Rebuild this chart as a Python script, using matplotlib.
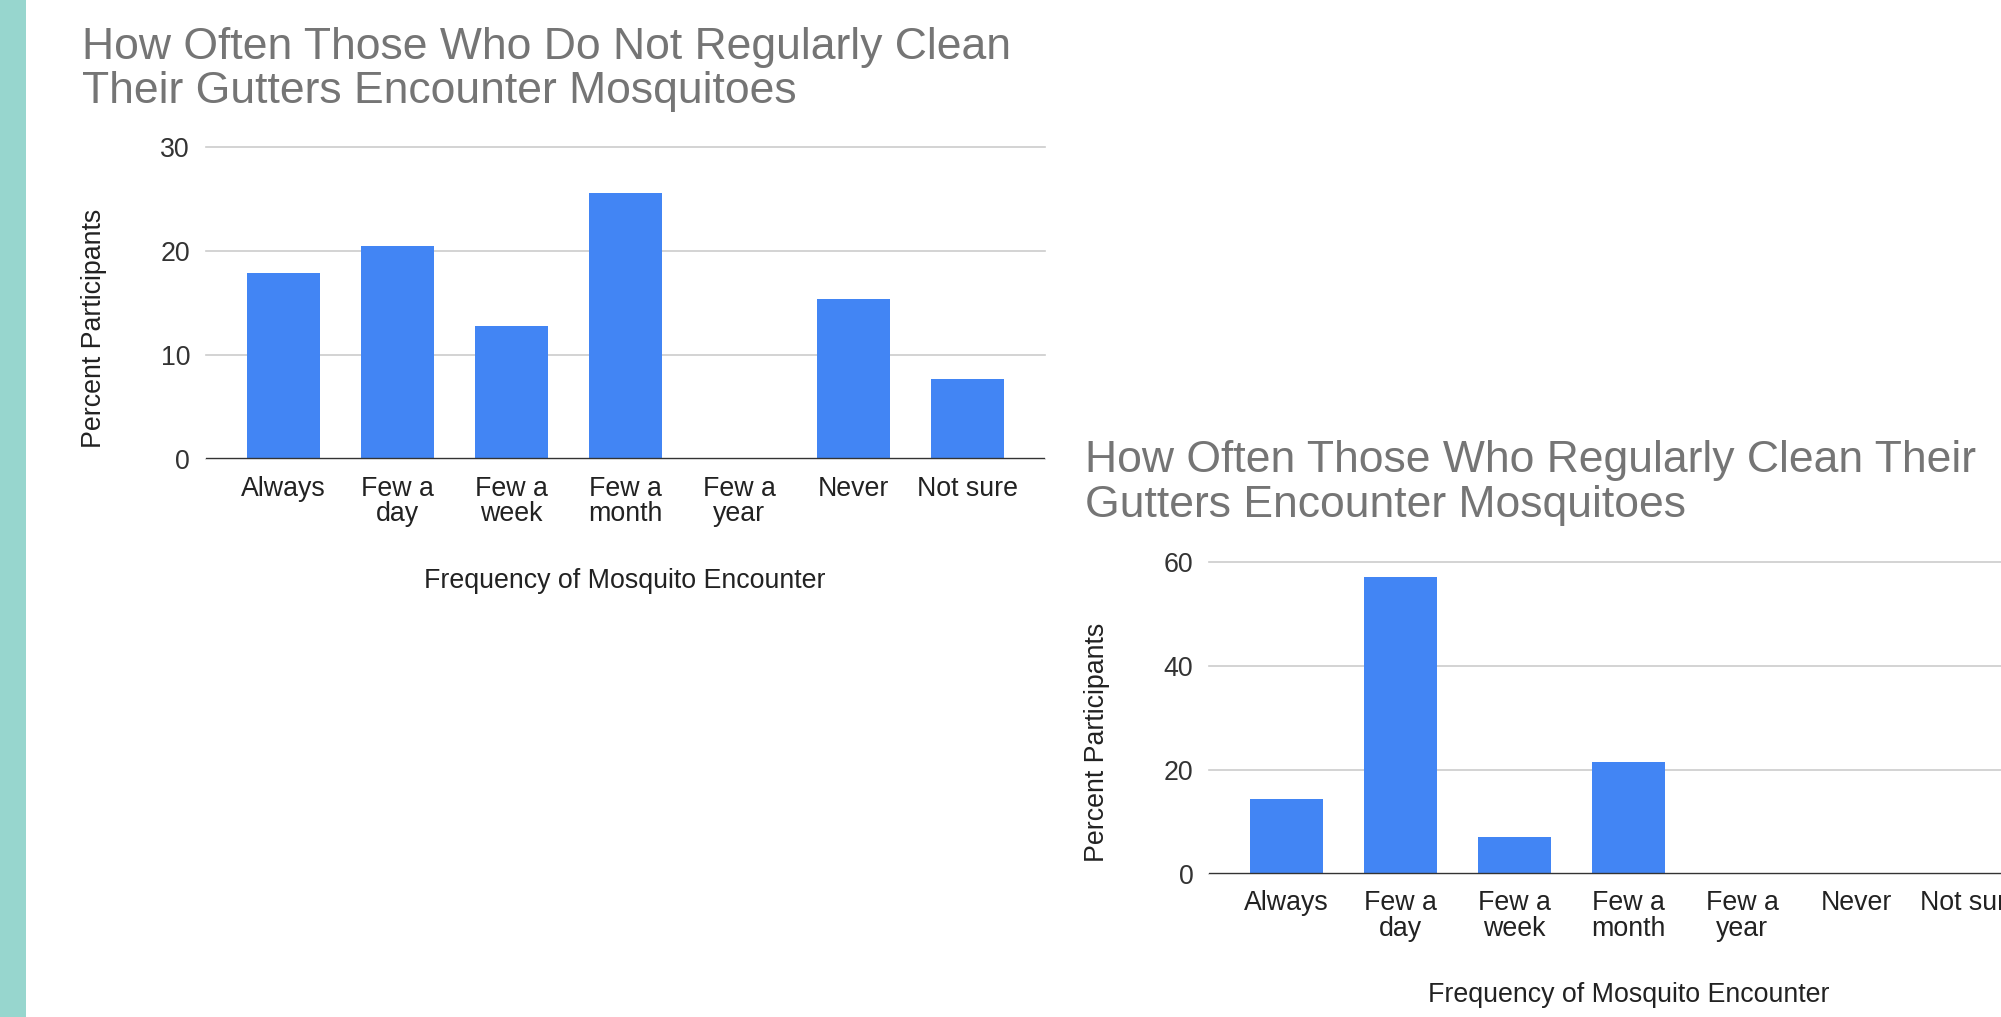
import matplotlib
matplotlib.use("Agg")
import matplotlib.pyplot as plt
from matplotlib.patches import Rectangle

# Survey categories and percentages
categories = ["Always", "Few a\nday", "Few a\nweek", "Few a\nmonth", "Few a\nyear", "Never", "Not sure"]
not_clean_pct = [17.9, 20.5, 12.8, 25.6, 0.0, 15.4, 7.7]
clean_pct = [14.3, 57.1, 7.1, 21.4, 0.0, 0.0, 0.0]
not_clean_ticks = [0, 10, 20, 30]
clean_ticks = [0, 20, 40, 60]

title_not_clean = ["How Often Those Who Do Not Regularly Clean",
                   "Their Gutters Encounter Mosquitoes"]
title_clean = ["How Often Those Who Regularly Clean Their",
               "Gutters Encounter Mosquitoes"]
x_title = "Frequency of Mosquito Encounter"
y_title = "Percent Participants"

FONT = "Liberation Sans"
BAR = "#4285F4"
W, H = 2001, 1017

fig = plt.figure(figsize=(W / 100, H / 100), dpi=100)
fig.patch.set_facecolor("white")

# side accent strip
fig.patches.append(Rectangle((0, 0), 26 / W, 1, transform=fig.transFigure,
                             facecolor="#97D6CE", edgecolor="none"))


def px_axes(left, top, width, height):
    return fig.add_axes([left / W, 1 - (top + height) / H, width / W, height / H])


def draw_chart(ax, values, ticks, title_lines, title_x, baselines):
    xs = list(range(len(categories)))
    ax.bar(xs, values, width=0.643, color=BAR, zorder=2)
    ax.set_xlim(-0.68, len(categories) - 1 + 0.68)
    ax.set_ylim(ticks[0], ticks[-1])
    ax.set_yticks(ticks)
    ax.set_xticks(xs)
    ax.set_xticklabels(categories, fontfamily=FONT, fontsize=19.3,
                       color="#222222", linespacing=0.97)
    for lab in ax.get_yticklabels():
        lab.set_fontfamily(FONT)
        lab.set_fontsize(19.3)
        lab.set_color("#333333")
    ax.tick_params(axis="y", length=0, pad=11.3)
    ax.tick_params(axis="x", length=0, pad=12)
    for s in ax.spines.values():
        s.set_visible(False)
    ax.set_axisbelow(True)
    ax.yaxis.grid(True, color="#CCCCCC", linewidth=1.2)
    for gl in ax.get_ygridlines():
        gl.set_clip_on(False)
    ax.axhline(0, color="#333333", linewidth=1.7, zorder=3)

    ax.set_xlabel(x_title, fontfamily=FONT, fontsize=19.3, color="#222222")
    ax.xaxis.set_label_coords(0.5, -128.7 / 312)
    ax.xaxis.label.set_va("baseline")

    ax.set_ylabel(y_title, fontfamily=FONT, fontsize=19.3, color="#222222")
    ax.yaxis.label.set_va("baseline")
    ax.yaxis.set_label_coords(-104.8 / 839, 0.42)

    for line, yb in zip(title_lines, baselines):
        fig.text(title_x / W, 1 - yb / H, line, fontfamily=FONT, fontsize=32,
                 color="#757575", ha="left", va="baseline")


ax1 = px_axes(205.7, 147.3, 839, 312)
draw_chart(ax1, not_clean_pct, not_clean_ticks, title_not_clean, 82, [58.5, 103.5])

ax2 = px_axes(1209, 561.7, 839, 312)
draw_chart(ax2, clean_pct, clean_ticks, title_clean, 1085, [471.7, 516.7])

fig.savefig("out.png", dpi=100, facecolor="white")
